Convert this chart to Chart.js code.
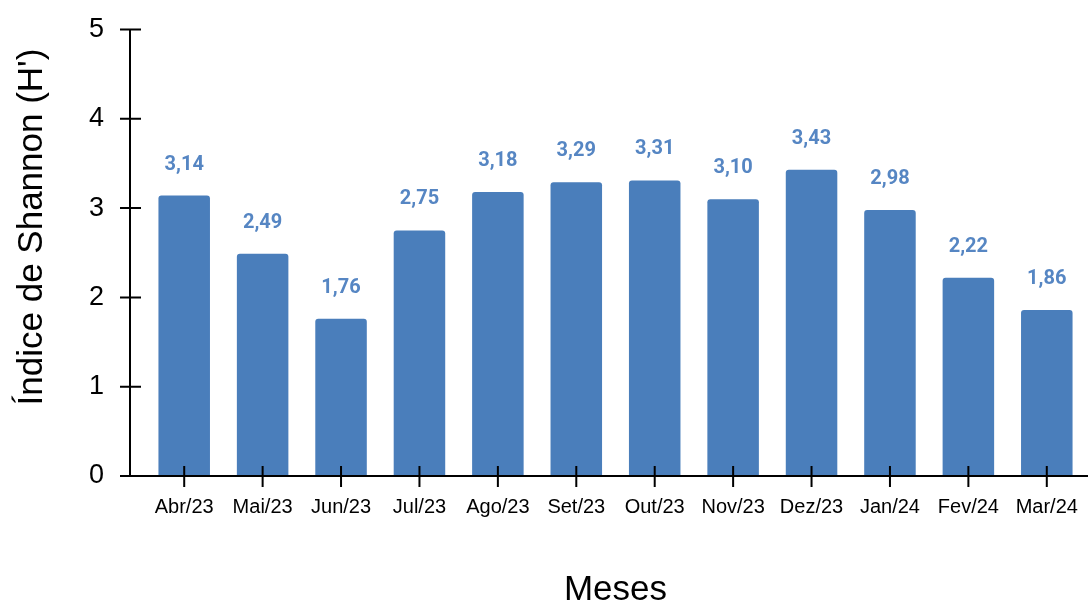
<!DOCTYPE html>
<html>
<head>
<meta charset="utf-8">
<script src="https://cdn.jsdelivr.net/npm/chart.js@4"></script>
<style>
  html, body { margin: 0; padding: 0; background: #fff; }
  #box { width: 1088px; height: 602px; }
</style>
</head>
<body>
<div id="box"><canvas id="graficoShannon"></canvas></div>
<script>
// meses de coleta e índice de Shannon de cada um
var meses = ['Abr/23', 'Mai/23', 'Jun/23', 'Jul/23', 'Ago/23', 'Set/23', 'Out/23', 'Nov/23', 'Dez/23', 'Jan/24', 'Fev/24', 'Mar/24']
var indiceShannon = [3.14, 2.49, 1.76, 2.75, 3.18, 3.29, 3.31, 3.10, 3.43, 2.98, 2.22, 1.86]
var ticksY = [0, 1, 2, 3, 4, 5]

var corBarra = '#4a7ebb'
var corRotulo = '#5686c3'

// eixos desenhados a mão: a linha do Y fica afastada das barras
const eixos = {
    id: 'eixos',
    afterDraw(chart) {
        const ctx = chart.ctx
        const x = chart.scales.x
        const y = chart.scales.y
        const area = chart.chartArea
        const xEixo = area.left - 15
        ctx.save()
        ctx.strokeStyle = '#000'
        ctx.lineWidth = 2
        ctx.beginPath()
        ctx.moveTo(xEixo, y.getPixelForValue(5))
        ctx.lineTo(xEixo, area.bottom)
        ctx.moveTo(xEixo - 10, area.bottom)
        ctx.lineTo(chart.width, area.bottom)
        ticksY.forEach(v => {
            const py = y.getPixelForValue(v)
            ctx.moveTo(xEixo - 10, py)
            ctx.lineTo(xEixo + 11, py)
        })
        meses.forEach((m, i) => {
            const px = x.getPixelForValue(i)
            ctx.moveTo(px, area.bottom - 10)
            ctx.lineTo(px, area.bottom + 11)
        })
        ctx.stroke()

        // títulos dos eixos
        ctx.fillStyle = '#000'
        ctx.font = '35px "Liberation Sans", Arial, sans-serif'
        ctx.textAlign = 'center'
        ctx.textBaseline = 'alphabetic'
        ctx.fillText('Meses', (area.left + area.right) / 2, 600)
        ctx.translate(42, 227)
        ctx.rotate(-Math.PI / 2)
        ctx.fillText("Índice de Shannon (H')", 0, 0)
        ctx.restore()
    }
}

// valor escrito acima de cada barra, com vírgula decimal
const rotulos = {
    id: 'rotulos',
    afterDatasetsDraw(chart) {
        const ctx = chart.ctx
        const meta = chart.getDatasetMeta(0)
        ctx.save()
        ctx.fillStyle = corRotulo
        ctx.font = 'bold 20px Roboto, sans-serif'
        ctx.textAlign = 'center'
        ctx.textBaseline = 'middle'
        meta.data.forEach((barra, i) => {
            const texto = indiceShannon[i].toFixed(2).replace('.', ',')
            ctx.fillText(texto, barra.x, barra.y - 31)
        })
        ctx.restore()
    }
}

const config = {
    type: 'bar',
    data: {
        labels: meses,
        datasets: [{
            label: 'Índice de Shannon',
            data: indiceShannon,
            backgroundColor: corBarra,
            borderRadius: 3,
            categoryPercentage: 1,
            barPercentage: 0.657
        }]
    },
    options: {
        responsive: true,
        maintainAspectRatio: false,
        animation: false,
        layout: {
            padding: { top: 29.5, right: 2, left: 0, bottom: 0 }
        },
        plugins: {
            legend: { display: false },
            tooltip: { enabled: false }
        },
        scales: {
            x: {
                offset: true,
                grid: { display: false, drawTicks: false },
                border: { display: false },
                ticks: {
                    color: '#000',
                    padding: 19,
                    maxRotation: 0,
                    autoSkip: false,
                    font: { family: '"Liberation Sans", Arial, sans-serif', size: 20 }
                },
                afterFit(scale) {
                    scale.height = 126
                    scale.paddingLeft = 0
                    scale.paddingRight = 0
                }
            },
            y: {
                min: 0,
                max: 5,
                grid: { display: false, drawTicks: false },
                border: { display: false },
                ticks: {
                    stepSize: 1,
                    color: '#000',
                    padding: 41,
                    font: { family: '"Liberation Sans", Arial, sans-serif', size: 27 }
                },
                afterFit(scale) {
                    scale.width = 145
                    scale.paddingTop = 0
                    scale.paddingBottom = 0
                }
            }
        }
    },
    plugins: [eixos, rotulos]
}

new Chart(document.getElementById('graficoShannon'), config)
</script>
</body>
</html>
